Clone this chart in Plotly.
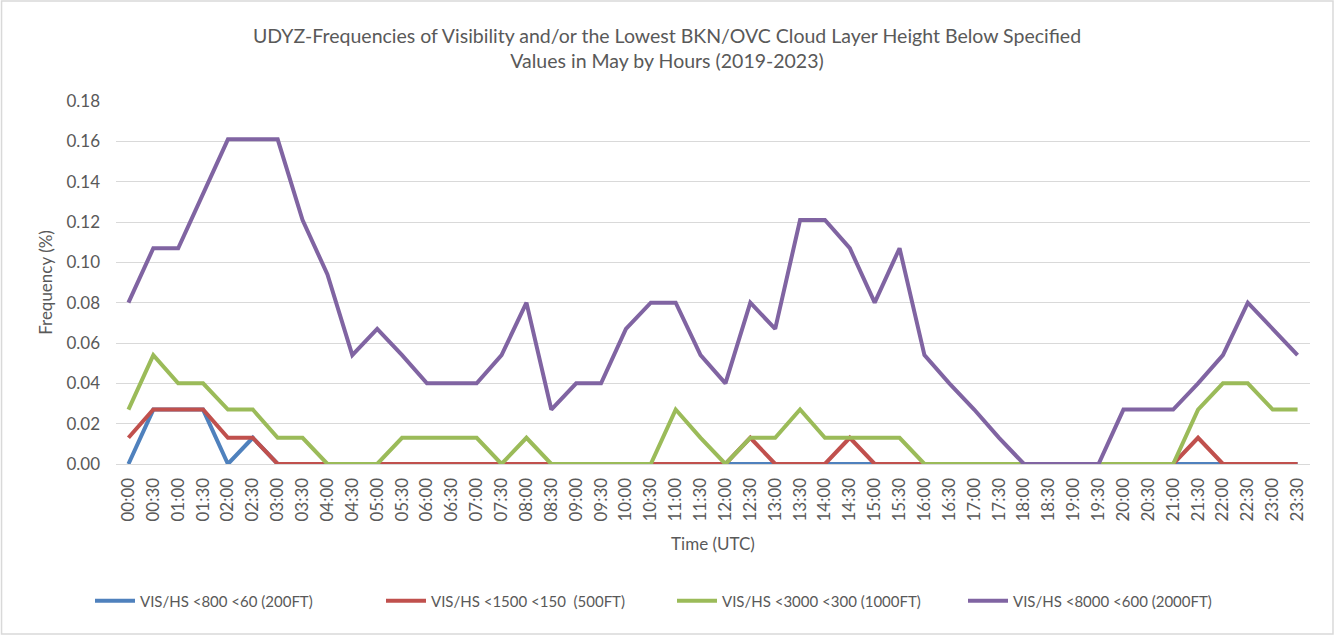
import plotly.graph_objects as go

times = [f"{h:02d}:{m:02d}" for h in range(24) for m in (0, 30)]

vis_200 = [0.000, 0.027, 0.027, 0.027, 0.000, 0.013, 0.000, 0.000, 0.000, 0.000,
           0.000, 0.000, 0.000, 0.000, 0.000, 0.000, 0.000, 0.000, 0.000, 0.000,
           0.000, 0.000, 0.000, 0.000, 0.000, 0.000, 0.000, 0.000, 0.000, 0.000,
           0.000, 0.000, 0.000, 0.000, 0.000, 0.000, 0.000, 0.000, 0.000, 0.000,
           0.000, 0.000, 0.000, 0.000, 0.000, 0.000, 0.000, 0.000]
vis_500 = [0.013, 0.027, 0.027, 0.027, 0.013, 0.013, 0.000, 0.000, 0.000, 0.000,
           0.000, 0.000, 0.000, 0.000, 0.000, 0.000, 0.000, 0.000, 0.000, 0.000,
           0.000, 0.000, 0.000, 0.000, 0.000, 0.013, 0.000, 0.000, 0.000, 0.013,
           0.000, 0.000, 0.000, 0.000, 0.000, 0.000, 0.000, 0.000, 0.000, 0.000,
           0.000, 0.000, 0.000, 0.013, 0.000, 0.000, 0.000, 0.000]
vis_1000 = [0.027, 0.054, 0.040, 0.040, 0.027, 0.027, 0.013, 0.013, 0.000, 0.000,
            0.000, 0.013, 0.013, 0.013, 0.013, 0.000, 0.013, 0.000, 0.000, 0.000,
            0.000, 0.000, 0.027, 0.013, 0.000, 0.013, 0.013, 0.027, 0.013, 0.013,
            0.013, 0.013, 0.000, 0.000, 0.000, 0.000, 0.000, 0.000, 0.000, 0.000,
            0.000, 0.000, 0.000, 0.027, 0.040, 0.040, 0.027, 0.027]
vis_2000 = [0.080, 0.107, 0.107, 0.134, 0.161, 0.161, 0.161, 0.121, 0.094, 0.054,
            0.067, 0.054, 0.040, 0.040, 0.040, 0.054, 0.080, 0.027, 0.040, 0.040,
            0.067, 0.080, 0.080, 0.054, 0.040, 0.080, 0.067, 0.121, 0.121, 0.107,
            0.080, 0.107, 0.054, 0.040, 0.027, 0.013, 0.000, 0.000, 0.000, 0.000,
            0.027, 0.027, 0.027, 0.040, 0.054, 0.080, 0.067, 0.054]

series = [
    ("VIS/HS <800 <60 (200FT)", vis_200, "#4F81BD"),
    ("VIS/HS <1500 <150  (500FT)", vis_500, "#C0504D"),
    ("VIS/HS <3000 <300 (1000FT)", vis_1000, "#9BBB59"),
    ("VIS/HS <8000 <600 (2000FT)", vis_2000, "#8064A2"),
]

FONT = "Lato"
GREY = "#595959"

fig = go.Figure()
for name, vals, color in series:
    fig.add_trace(go.Scatter(x=times, y=vals, mode="lines", name=name,
                             line=dict(color=color, width=4)))

W, H = 1334, 635
L, R, T, B = 115.5, 24, 101, 171
pw = W - L - R
ph = H - T - B

fig.update_layout(
    width=W, height=H,
    margin=dict(l=L, r=R, t=T, b=B),
    paper_bgcolor="white", plot_bgcolor="white",
    font=dict(family=FONT, color=GREY),
    title=dict(
        text="UDYZ-Frequencies of Visibility and/or the Lowest BKN/OVC Cloud Layer Height Below Specified<br>Values in May by Hours (2019-2023)",
        x=0.5, xanchor="center", y=1 - 43 / H, yanchor="middle",
        font=dict(size=19.5, color=GREY, family=FONT),
    ),
    xaxis=dict(
        type="category", range=[-0.5, 47.5], tickangle=-90,
        tickfont=dict(size=17, color=GREY), showgrid=False,
        showline=True, linecolor="#d9d9d9", ticks="", ticklabelstandoff=6,
        title=dict(text="Time (UTC)", font=dict(size=17, color=GREY), standoff=17),
    ),
    yaxis=dict(
        range=[0, 0.18], dtick=0.02, tickformat=".2f",
        tickfont=dict(size=17, color=GREY), gridcolor="#d9d9d9", gridwidth=1,
        zeroline=False, ticks="", ticklabelstandoff=15,
        title=dict(text="Frequency (%)", font=dict(size=17, color=GREY), standoff=9),
    ),
    legend=dict(
        orientation="h", xref="container", yref="container",
        x=672 / W, xanchor="center", y=1 - 601 / H, yanchor="middle",
        font=dict(size=15, color=GREY), itemwidth=40, entrywidth=236,
    ),
    shapes=[dict(
        type="rect", xref="paper", yref="paper",
        x0=(1 - L) / pw, x1=(W - 1 - L) / pw,
        y0=-(H - 1 - T - ph) / ph, y1=(H - 1 - B) / ph,
        line=dict(color="#d9d9d9", width=1.5), layer="below",
    )],
)

fig.write_html("out.html", config={"displayModeBar": False},
               post_script="document.body.style.margin='0';")
